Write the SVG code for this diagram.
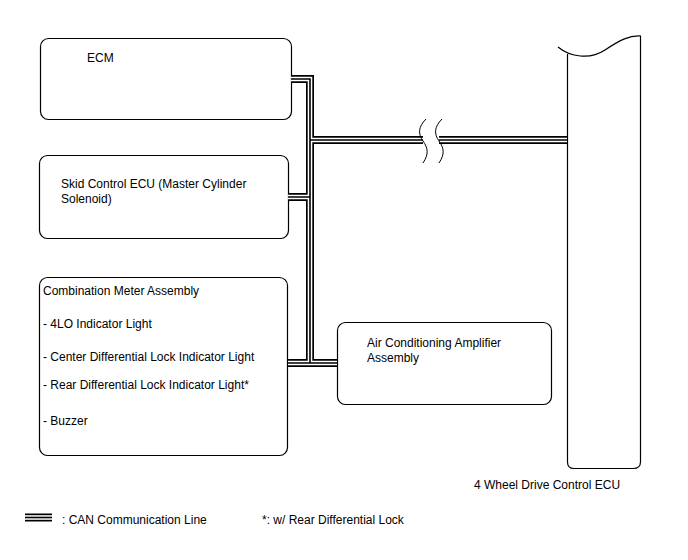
<svg xmlns="http://www.w3.org/2000/svg" width="688" height="560" viewBox="0 0 688 560">
<style>
.box{fill:#fff;stroke:#000;stroke-width:1.2}
text{font-family:"Liberation Sans",Arial,sans-serif;font-size:12px;fill:#000}
.b1{fill:none;stroke:#000;stroke-width:8;stroke-linejoin:miter}
.b2{fill:none;stroke:#fff;stroke-width:4.6;stroke-linejoin:miter}
.b3{fill:none;stroke:#000;stroke-width:1.6;stroke-linejoin:miter}
.brk{fill:none;stroke:#000;stroke-width:1}
</style>
<g id="ecm"><rect class="box" x="40.5" y="38.5" width="251" height="81" rx="8"/><text x="87" y="62">ECM</text></g>
<g id="skid"><rect class="box" x="39.5" y="155.5" width="249" height="83" rx="8"/><text x="61" y="188">Skid Control ECU (Master Cylinder</text><text x="61" y="203">Solenoid)</text></g>
<g id="meter"><rect class="box" x="39.5" y="277.5" width="248" height="178" rx="8"/>
<text x="43" y="295">Combination Meter Assembly</text>
<text x="43" y="328">- 4LO Indicator Light</text>
<text x="43" y="361">- Center Differential Lock Indicator Light</text>
<text x="43" y="389">- Rear Differential Lock Indicator Light*</text>
<text x="43" y="425">- Buzzer</text></g>
<g id="aircon"><rect class="box" x="337.5" y="322.5" width="214" height="82" rx="8"/><text x="367" y="347">Air Conditioning Amplifier</text><text x="367" y="362">Assembly</text></g>
<g id="fwd"><path class="box" d="M567.5,54 L567.5,462 Q567.5,468.5 574,468.5 L633,468.5 Q640.5,468.5 640.5,462 L640.5,36 M558,47 C570,57 590,60 605,50 S630,35 641,36"/><text x="474" y="489">4 Wheel Drive Control ECU</text></g>
<g id="connectors">
<path class="b1" d="M291,79 H310 V363 M310,140 H423 M439,140 H567 M288,197 H310 M288,363 H337"/>
<path class="b2" d="M291,79 H310 V363 M310,140 H423 M439,140 H567 M288,197 H310 M288,363 H337"/>
<path class="b3" d="M291,79 H310 V363 M310,140 H423 M439,140 H567 M288,197 H310 M288,363 H337"/>
<path class="brk" d="M426,119 C418,127 418,134 423,141 S429,154 423,163"/>
<path class="brk" d="M442,119 C434,127 434,134 439,141 S445,154 439,163"/>
</g>
<g id="legend">
<path class="b1" d="M25,517.5 H52"/><path class="b2" d="M25,517.5 H52"/><path class="b3" d="M25,517.5 H52"/>
<text x="62" y="524">: CAN Communication Line</text>
<text x="262" y="524">*: w/ Rear Differential Lock</text>
</g>
</svg>
